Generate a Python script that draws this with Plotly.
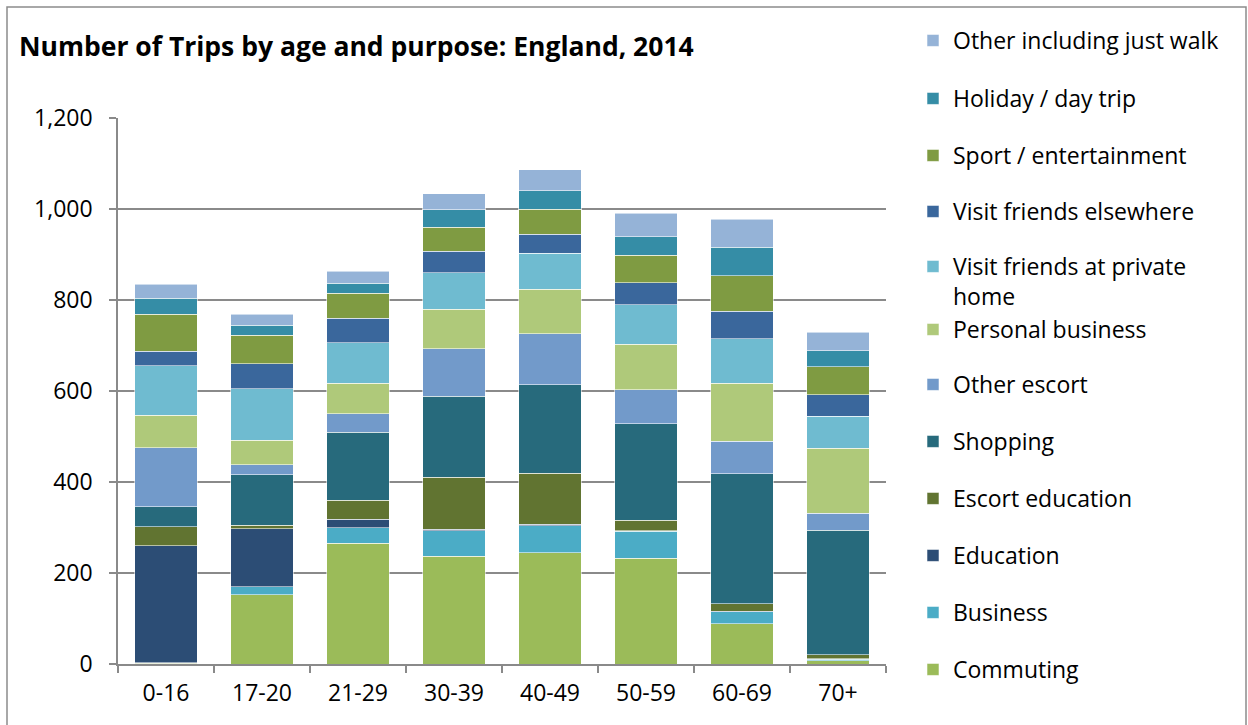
import plotly.graph_objects as go

ages = ["0-16", "17-20", "21-29", "30-39", "40-49", "50-59", "60-69", "70+"]

commuting = [2, 152, 265, 237, 244, 232, 89, 7]
business = [1, 18, 35, 56, 60, 60, 26, 4]
education = [257, 127, 18, 3, 3, 1, 1, 1]
escort_education = [42, 8, 42, 114, 112, 23, 16, 8]
shopping = [44, 111, 149, 178, 195, 212, 286, 274]
other_escort = [129, 22, 41, 105, 112, 75, 72, 37]
personal_business = [72, 54, 67, 87, 98, 100, 127, 143]
visit_private = [108, 113, 89, 80, 79, 87, 98, 70]
visit_elsewhere = [32, 55, 54, 47, 41, 48, 60, 48]
sport = [82, 63, 55, 53, 56, 60, 78, 61]
holiday = [35, 21, 22, 38, 40, 41, 63, 36]
other_walk = [31, 25, 26, 36, 46, 52, 62, 40]

series = [
    ("Commuting", commuting, "#9BBB59"),
    ("Business", business, "#4BACC6"),
    ("Education", education, "#2C4D75"),
    ("Escort education", escort_education, "#617431"),
    ("Shopping", shopping, "#276A7C"),
    ("Other escort", other_escort, "#729ACA"),
    ("Personal business", personal_business, "#AFC97A"),
    ("Visit friends at private<br>home", visit_private, "#6FBBD0"),
    ("Visit friends elsewhere", visit_elsewhere, "#3A679C"),
    ("Sport / entertainment", sport, "#7F9B42"),
    ("Holiday / day trip", holiday, "#358DA6"),
    ("Other including just walk", other_walk, "#95B3D7"),
]

W, H = 1248, 725
FONT = "Open Sans"
# legend item centre rows (pixels from top), bottom item first
legend_rows = [671, 614, 557, 500, 443, 386, 331, 268, 213, 157, 100, 42]

fig = go.Figure()
layout_legends = {}
for i, (name, vals, col) in enumerate(series):
    key = "legend" if i == 0 else f"legend{i+1}"
    fig.add_trace(go.Bar(
        x=ages, y=vals, name=name,
        marker=dict(color=col, line=dict(color="rgba(255,255,255,0.55)", width=1)),
        legend=key,
    ))
    py = legend_rows[i]
    layout_legends[key] = dict(
        xref="container", yref="container",
        x=913 / W, y=1 - (py - 23) / H,
        xanchor="left", yanchor="top",
        valign="top",
        font=dict(family=FONT, size=23, color="#000000"),
        bgcolor="rgba(0,0,0,0)",
        itemwidth=30,
    )

fig.update_layout(
    width=W, height=H,
    paper_bgcolor="white", plot_bgcolor="white",
    barmode="stack", bargap=0.35,
    margin=dict(l=118, r=W - 886, t=118, b=H - 664),
    font=dict(family=FONT, size=20, color="#000000"),
    title=dict(
        text="<b>Number of Trips by age and purpose: England, 2014</b>",
        x=19 / W, xanchor="left", y=1 - 47 / H, yanchor="middle",
        font=dict(family=FONT, size=26.5, color="#000000"),
    ),
    showlegend=True,
    **layout_legends,
)

fig.update_yaxes(
    range=[0, 1200], dtick=200, tickformat=",",
    showgrid=True, gridcolor="#8A8A8A", gridwidth=1.6,
    showline=True, linecolor="#8A8A8A", linewidth=1.6,
    ticks="outside", ticklen=7, tickcolor="#8A8A8A", tickwidth=1.6,
    zeroline=False, ticklabelstandoff=12,
    tickfont=dict(family=FONT, size=23, color="#000000"),
)
fig.update_xaxes(
    showline=True, linecolor="#8A8A8A", linewidth=1.6,
    ticks="outside", ticklen=7, tickcolor="#8A8A8A", tickwidth=1.6,
    tickson="boundaries", showgrid=False, ticklabelstandoff=8,
    tickfont=dict(family=FONT, size=23, color="#000000"),
)

# outer chart-area border
fig.add_shape(
    type="rect", xref="paper", yref="paper",
    x0=(7 - 118) / 768, x1=(1246 - 118) / 768,
    y0=-(740 - 664) / 546, y1=1 + (118 - 7) / 546,
    line=dict(color="#8C8C8C", width=1.5), fillcolor="rgba(0,0,0,0)",
    layer="below",
)

fig.write_html("out.html", config={"displayModeBar": False},
               post_script="document.body.style.margin='0';")
